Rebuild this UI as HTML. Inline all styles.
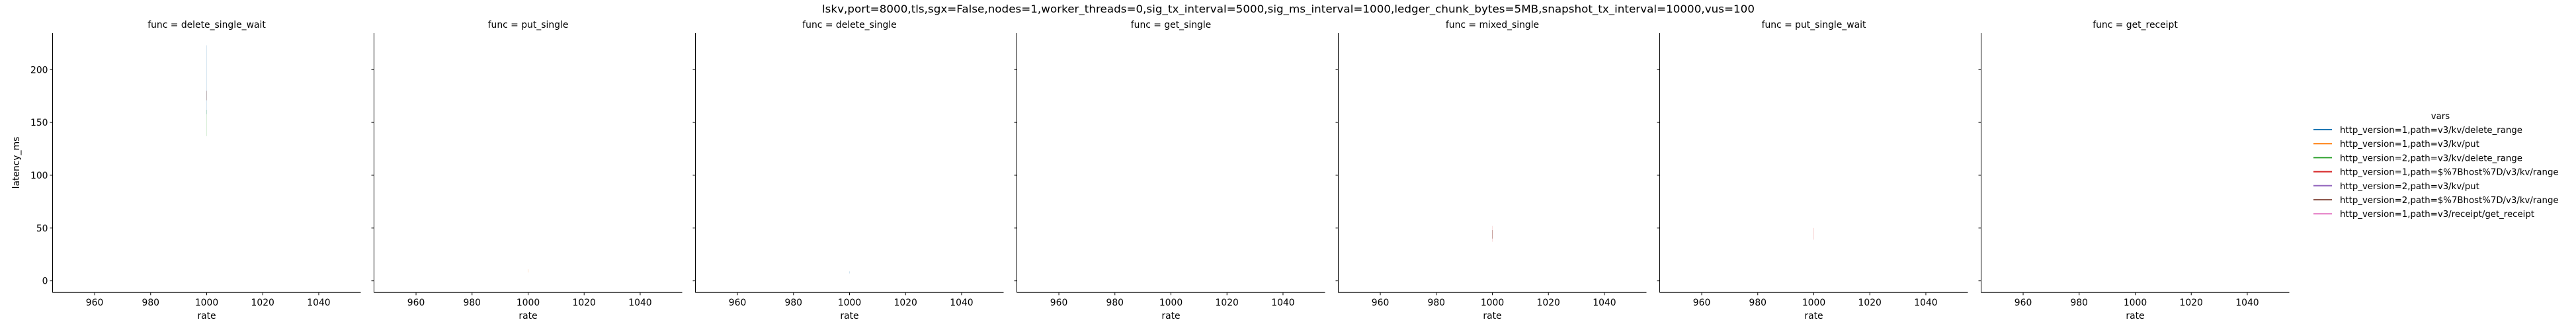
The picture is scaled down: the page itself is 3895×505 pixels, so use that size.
<!DOCTYPE html>
<html><head><meta charset="utf-8">
<style>
html,body{margin:0;padding:0;background:#fff;}
svg text{font-family:"DejaVu Sans","Liberation Sans",sans-serif;fill:#000;}
</style></head>
<body>
<svg id="chart" width="3895" height="500" viewBox="0 0 3895 500" xmlns="http://www.w3.org/2000/svg">
<rect width="3895" height="500" fill="#fff"/>
<text x="1948" y="19" font-size="16" text-anchor="middle" textLength="1410" lengthAdjust="spacingAndGlyphs">lskv,port=8000,tls,sgx=False,nodes=1,worker_threads=0,sig_tx_interval=5000,sig_ms_interval=1000,ledger_chunk_bytes=5MB,snapshot_tx_interval=10000,vus=100</text>
<g id="panels"></g>
<g id="legend"></g>
</svg>
<script>
const funcs = ["delete_single_wait","put_single","delete_single","get_single","mixed_single","put_single_wait","get_receipt"];
const xTicks = [960,980,1000,1020,1040];
const yTicks = [0,50,100,150,200];
const seriesNames = ["http_version=1,path=v3/kv/delete_range","http_version=1,path=v3/kv/put","http_version=2,path=v3/kv/delete_range","http_version=1,path=$%7Bhost%7D/v3/kv/range","http_version=2,path=v3/kv/put","http_version=2,path=$%7Bhost%7D/v3/kv/range","http_version=1,path=v3/receipt/get_receipt"];
const seriesColors = ["#1f77b4","#ff7f0e","#2ca02c","#d62728","#9467bd","#8c564b","#e377c2"];
// band marks: panel index, series index, rate, low, high
const markPanel = [0,0,0,1,2,4,4,5];
const markSeries = [0,2,5,1,0,3,5,3];
const markRate = [1000,1000,1000,1000,1000,1000,1000,1000];
const markLow = [158,137,171,8,7,37,40,39];
const markHigh = [223,162,180,11,9,52,48,50];
const markOpacity = [0.18,0.18,0.35,0.2,0.2,0.15,0.45,0.2];

const NS="http://www.w3.org/2000/svg";
const panelsG=document.getElementById('panels');
const P0=79.5, PW=466, PITCH=486, TOP=50, BOT=442.3;
const xMin=945, xMax=1055, yMin=-11.05, yMax=234.6;
function xs(v,i){return P0+i*PITCH+(v-xMin)/(xMax-xMin)*PW;}
function ys(v){return BOT-(v-yMin)/(yMax-yMin)*(BOT-TOP);}
function mk(tag,attrs,parent){const e=document.createElementNS(NS,tag);for(const k in attrs)e.setAttribute(k,attrs[k]);parent.appendChild(e);return e;}

funcs.forEach((f,i)=>{
  const g=mk('g',{},panelsG);
  
  
  const L=P0+i*PITCH;
  const t=mk('text',{x:L+PW/2,y:42,'font-size':13.9,'text-anchor':'middle'},g);
  
  
  t.textContent='func = '+f;
  const ya=mk('line',{x1:L,y1:TOP,x2:L,y2:BOT,stroke:'#000','stroke-width':1},g);
  
  
  const xa=mk('line',{x1:L,y1:BOT,x2:L+PW,y2:BOT,stroke:'#000','stroke-width':1},g);
  
  
  yTicks.forEach(v=>{
    const y=ys(v);
    const tk=mk('line',{x1:L-4,y1:y,x2:L,y2:y,stroke:'#000','stroke-width':1},g);
    
    
    if(i===0){
      const tl=mk('text',{x:L-7,y:y+5,'font-size':13.9,'text-anchor':'end'},g);
      
      
      tl.textContent=v;
    }
  });
  xTicks.forEach(v=>{
    const x=xs(v,i);
    const tk=mk('line',{x1:x,y1:BOT,x2:x,y2:BOT+4,stroke:'#000','stroke-width':1},g);
    
    
    const tl=mk('text',{x:x,y:462,'font-size':13.9,'text-anchor':'middle'},g);
    
    
    tl.textContent=v;
  });
  const xl=mk('text',{x:L+PW/2,y:482,'font-size':13.9,'text-anchor':'middle'},g);
  
  
  xl.textContent='rate';
  if(i===0){
    const yl=mk('text',{x:0,y:0,'font-size':13.9,'text-anchor':'middle',transform:'translate(29,246) rotate(-90)'},g);
    
    
    yl.textContent='latency_ms';
  }
});
markPanel.forEach((p,k)=>{
  const x=xs(markRate[k],p);
  const m=mk('line',{x1:x,y1:ys(markHigh[k]),x2:x,y2:ys(markLow[k]),stroke:seriesColors[markSeries[k]],'stroke-width':1,'stroke-opacity':markOpacity[k]},panelsG);
  
  
});
const lg=document.getElementById('legend');
const lt=mk('text',{x:3690,y:180,'font-size':13.3,'text-anchor':'middle'},lg);


lt.textContent='vars';
seriesNames.forEach((n,k)=>{
  const y=196+k*21.2;
  const g=mk('g',{},lg);
  
  
  mk('line',{x1:3498,y1:y,x2:3526,y2:y,stroke:seriesColors[k],'stroke-width':2},g);
  const t=mk('text',{x:3538,y:y+5,'font-size':13.3},g);
  t.textContent=n;
});
</script>
</body></html>
